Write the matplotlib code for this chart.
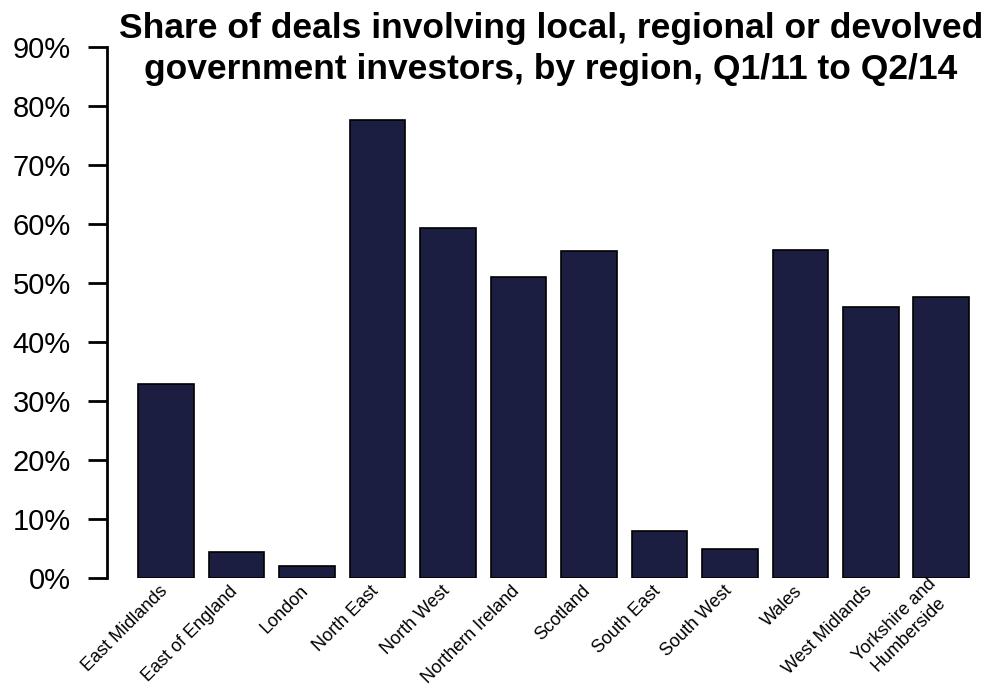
import matplotlib
matplotlib.use('Agg')
import matplotlib.pyplot as plt
import matplotlib.transforms as mtransforms
from matplotlib.ticker import FuncFormatter

# Data (percent of deals)
regions = ['East Midlands', 'East of England', 'London', 'North East', 'North West',
           'Northern Ireland', 'Scotland', 'South East', 'South West', 'Wales',
           'West Midlands', 'Yorkshire and\nHumberside']
share = [32.8, 4.4, 2.0, 77.7, 59.3, 51.1, 55.4, 8.0, 4.9, 55.6, 46.0, 47.7]
yticks = [0, 10, 20, 30, 40, 50, 60, 70, 80, 90]

plt.rcParams['font.family'] = ['Liberation Sans', 'DejaVu Sans']

fig = plt.figure(figsize=(9.98, 6.91), dpi=100)
ax = fig.add_axes([0.107, 0.1635, 0.880, 0.7685])

x = list(range(len(regions)))
ax.bar(x, share, width=0.79, color='#1b1e40', edgecolor='black', linewidth=1.2)

ax.set_ylim(0, 90)
ax.set_xlim(-0.84, 11.62)
ax.set_yticks(yticks)
ax.yaxis.set_major_formatter(FuncFormatter(lambda v, p: f'{v:.0f}%'))
ax.tick_params(axis='y', labelsize=21, length=14, width=2, pad=12)

# category labels drawn as text so they can be nudged freely
ax.set_xticks([])
offset = mtransforms.ScaledTranslation(-1 / 100, -10.5 / 100, fig.dpi_scale_trans)
for i, name in zip(x, regions):
    ax.text(i, 0, name, transform=ax.get_xaxis_transform() + offset,
            rotation=45, ha='right', va='center', rotation_mode='anchor',
            fontsize=13, multialignment='center')

for s in ['top', 'right', 'bottom']:
    ax.spines[s].set_visible(False)
ax.spines['left'].set_linewidth(2)
ax.spines['left'].set_bounds(0, 90)

fig.text(0.552, 0.983, 'Share of deals involving local, regional or devolved\n'
         'government investors, by region, Q1/11 to Q2/14',
         ha='center', va='top', fontsize=25.5, fontweight='bold', linespacing=1.3)

plt.savefig('out.png', dpi=100)
plt.close()
